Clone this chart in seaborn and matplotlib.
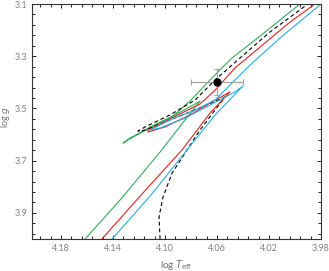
import numpy as np
import pandas as pd
import matplotlib
matplotlib.use("Agg")
import matplotlib.pyplot as plt
import seaborn as sns
from matplotlib.ticker import FixedLocator

# evolutionary tracks (log Teff, log g), in path order
green_teff = [4.1615, 4.1346, 4.1038, 4.0846, 4.0731, 4.0769, 4.0923, 4.1115, 4.1269, 4.1323,
              4.1285, 4.1115, 4.0938, 4.0808, 4.0654, 4.0485, 4.0269, 3.9962, 3.990]
green_logg = [4.000, 3.851, 3.667, 3.544, 3.472, 3.483, 3.525, 3.575, 3.613, 3.633,
              3.621, 3.571, 3.529, 3.472, 3.391, 3.307, 3.223, 3.100, 3.075]

red_teff = [4.1485, 4.1192, 4.0869, 4.0654, 4.0500, 4.0615, 4.0808, 4.1000, 4.1131,
            4.1131, 4.1038, 4.0885, 4.0731, 4.0615, 4.0462, 4.0269, 4.0038, 3.9846, 3.978]
red_logg = [4.000, 3.836, 3.659, 3.518, 3.437, 3.468, 3.525, 3.571, 3.590,
            3.583, 3.560, 3.521, 3.483, 3.430, 3.345, 3.265, 3.169, 3.100, 3.075]

blue_teff = [4.1408, 4.1115, 4.0831, 4.0615, 4.0400, 4.0462, 4.0654, 4.0846, 4.1038, 4.1115,
             4.0962, 4.0769, 4.0615, 4.0500, 4.0346, 4.0115, 3.9800, 3.975]
blue_logg = [4.000, 3.836, 3.659, 3.525, 3.414, 3.437, 3.487, 3.537, 3.575, 3.583,
             3.544, 3.506, 3.468, 3.410, 3.334, 3.230, 3.100, 3.080]

dash_teff = [4.1038, 4.1046, 4.1015, 4.0946, 4.0831, 4.0731, 4.0615, 4.0538, 4.0731, 4.0962,
             4.1154, 4.1208, 4.1154, 4.0962, 4.0769, 4.0615, 4.0423, 4.0192, 3.9900, 3.985]
dash_logg = [4.000, 3.916, 3.839, 3.748, 3.659, 3.583, 3.506, 3.456, 3.498, 3.544,
             3.583, 3.587, 3.571, 3.525, 3.468, 3.391, 3.307, 3.207, 3.100, 3.080]

# observed star
star_teff, star_teff_err = 4.06, 0.02
star_logg, star_logg_err = 3.40, 0.05

x_major = [4.18, 4.14, 4.10, 4.06, 4.02, 3.98]
y_major = [3.1, 3.3, 3.5, 3.7, 3.9]

sns.set_style("ticks")
plt.rcParams['font.family'] = ['Lato', 'DejaVu Sans']
plt.rcParams['mathtext.fontset'] = 'dejavusans'

fig = plt.figure(figsize=(3.29, 2.71), dpi=100)
ax = fig.add_axes([32 / 329, 1 - 239 / 271, 289 / 329, 235 / 271])

tracks = [
    (green_teff, green_logg, "#2bb155", "-"),
    (dash_teff, dash_logg, "black", (0, (3.5, 2.5))),
    (red_teff, red_logg, "#f21d1d", "-"),
    (blue_teff, blue_logg, "#1fb1ec", "-"),
]
for teff, logg, col, ls in tracks:
    df = pd.DataFrame({"teff": teff, "logg": logg})
    sns.lineplot(data=df, x="teff", y="logg", sort=False, estimator=None,
                 color=col, lw=0.8, linestyle=ls, ax=ax)

ax.errorbar(star_teff, star_logg, xerr=star_teff_err, yerr=star_logg_err, fmt="o",
            color="black", ms=5, ecolor="#a0a0a0", elinewidth=0.8, capsize=2.5,
            capthick=0.8, zorder=5)

ax.set_xlim(4.2023, 3.98)
ax.set_ylim(4.0, 3.1)
ax.xaxis.set_major_locator(FixedLocator(x_major))
ax.xaxis.set_minor_locator(FixedLocator([3.98 + 0.008 * k for k in range(29)]))
ax.yaxis.set_major_locator(FixedLocator(y_major))
ax.yaxis.set_minor_locator(FixedLocator([3.1 + 0.04 * k for k in range(23)]))
ax.set_xticklabels([f"{v:.2f}" for v in x_major])
ax.set_yticklabels([f"{v:.1f}" for v in y_major])
ax.tick_params(which="both", direction="in", top=True, right=True,
               labelsize=6.5, labelcolor="#808080", color="#222222", width=0.7)
ax.tick_params(which="major", length=3)
ax.tick_params(which="minor", length=2)
for s in ax.spines.values():
    s.set_color("#333333")
    s.set_linewidth(0.8)

ax.set_xlabel(r"log $T_{\rm eff}$", fontsize=7, color="#707070", labelpad=4)
ax.set_ylabel(r"log $g$", fontsize=6.5, color="#707070")
ax.yaxis.set_label_coords(-0.068, 0.52)

fig.savefig("out.png", dpi=100)
